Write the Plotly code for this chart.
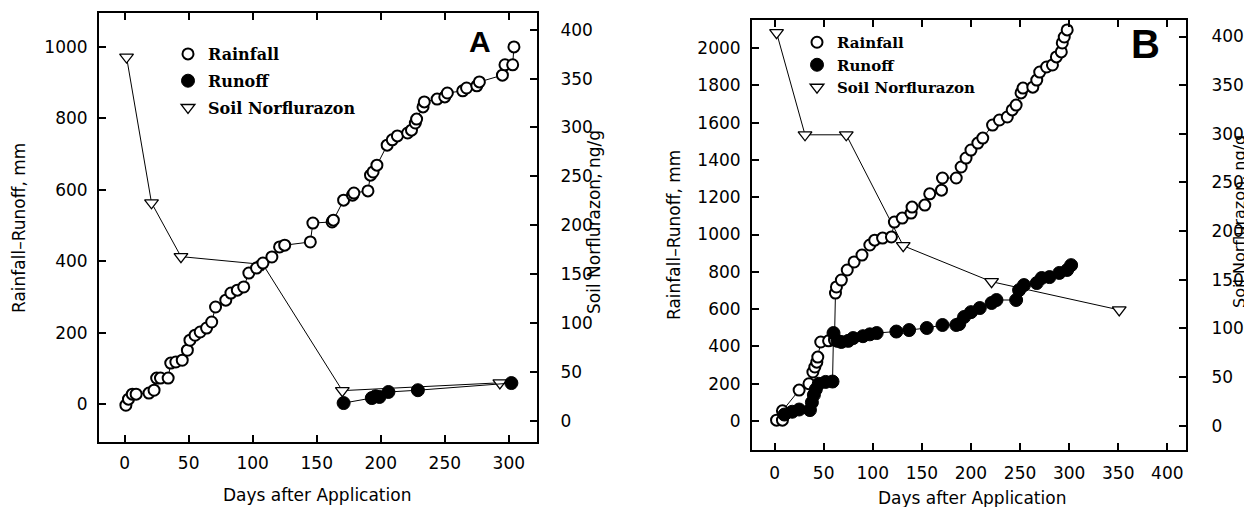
import plotly.graph_objects as go

# ---------------- Panel A data ----------------
a_rain_day = [1, 3, 6, 9, 19, 23, 25, 28, 34, 36, 40, 45, 49, 51, 55, 59, 64, 68, 71, 79,
              83, 88, 93, 97, 103, 108, 115, 121, 125, 145, 147, 162, 163, 171, 178, 179,
              190, 192, 194, 197, 205, 209, 213, 221, 224, 227, 228, 233, 234, 244, 250,
              252, 264, 267, 275, 277, 295, 297, 303, 304]
a_rain_mm = [-3, 14, 28, 28, 31, 39, 73, 73, 73, 115, 118, 123, 151, 179, 193, 202, 213, 230,
             272, 291, 311, 319, 328, 367, 381, 395, 412, 440, 445, 454, 507, 510, 515, 571,
             585, 591, 597, 641, 650, 669, 725, 740, 751, 759, 767, 787, 798, 832, 846, 854,
             860, 871, 877, 885, 891, 902, 921, 950, 950, 1000]
a_runoff_day = [171, 193, 196, 199, 206, 229, 302]
a_runoff_mm = [3, 17, 22, 20, 34, 39, 59]
a_soil_day = [1.5, 21, 44, 108, 170, 293]
a_soil_ngg = [372, 223, 168, 160, 31, 39]

# ---------------- Panel B data ----------------
b_rain_day = [2, 8, 8, 25, 35, 39, 41, 43, 44, 47, 55, 61, 62, 63, 68, 74, 81, 89, 97, 102,
              110, 119, 122, 130, 139, 140, 153, 158, 170, 171, 185, 190, 195, 200, 207, 212,
              222, 229, 237, 242, 246, 251, 253, 263, 267, 270, 277, 283, 287, 292, 293, 295,
              298]
b_rain_mm = [5, 5, 55, 166, 200, 263, 290, 316, 343, 424, 430, 434, 686, 719, 756, 810, 853,
             890, 944, 970, 981, 987, 1067, 1088, 1115, 1147, 1158, 1218, 1238, 1303, 1303,
             1362, 1410, 1453, 1490, 1517, 1587, 1614, 1630, 1668, 1694, 1759, 1785, 1790,
             1828, 1871, 1898, 1909, 1952, 1979, 2027, 2059, 2097]
b_runoff_day = [10, 18, 25, 36, 38, 40, 42, 45, 52, 59, 60, 64, 68, 75, 80, 90, 97, 104, 124,
                137, 155, 171, 185, 188, 193, 200, 209, 221, 226, 246, 249, 254, 267, 272,
                280, 290, 298, 302]
b_runoff_mm = [35, 50, 62, 59, 100, 140, 170, 200, 210, 212, 472, 430, 424, 430, 445, 455,
               465, 472, 480, 488, 499, 515, 515, 520, 558, 584, 606, 633, 649, 649, 702, 729,
               740, 767, 772, 794, 810, 836]
b_soil_day = [2, 31, 73, 131, 221, 351]
b_soil_ngg = [404, 299, 299, 185, 148, 119]

x_ticks_a = [0, 50, 100, 150, 200, 250, 300]
x_ticks_b = [0, 50, 100, 150, 200, 250, 300, 350, 400]

# page is drawn with an 8px body margin, so the figure fills the rest of the window
OFF = 8
W, H = 1252 - OFF, 507 - OFF
BLACK = "black"
TICKFONT = dict(family="DejaVu Sans", size=17, color=BLACK)
TITLEFONT = dict(family="DejaVu Sans", size=17, color=BLACK)
LEGFONT = dict(family="DejaVu Serif", size=16, color=BLACK, weight="bold")
LEGFONT2 = dict(family="DejaVu Serif", size=15, color=BLACK, weight="bold")

open_circle = dict(symbol="circle", size=11, color="white", line=dict(color=BLACK, width=2))
filled_circle = dict(symbol="circle", size=13, color=BLACK, line=dict(color=BLACK, width=1))
tri = dict(symbol="triangle-down", size=12, color="white", line=dict(color=BLACK, width=1.3))
line1 = dict(color=BLACK, width=1)

fig = go.Figure()

# Panel A (soil on base axis 'y' so it sits beneath circles)
fig.add_trace(go.Scatter(x=a_soil_day, y=a_soil_ngg, mode="lines+markers", marker=tri,
                         line=line1, xaxis="x", yaxis="y", showlegend=False))
fig.add_trace(go.Scatter(x=a_rain_day, y=a_rain_mm, mode="lines+markers", marker=open_circle,
                         line=line1, xaxis="x", yaxis="y2", showlegend=False))
fig.add_trace(go.Scatter(x=a_runoff_day, y=a_runoff_mm, mode="lines+markers", marker=filled_circle,
                         line=line1, xaxis="x", yaxis="y2", showlegend=False))
# Panel B
fig.add_trace(go.Scatter(x=b_soil_day, y=b_soil_ngg, mode="lines+markers", marker=tri,
                         line=line1, xaxis="x2", yaxis="y3", showlegend=False))
fig.add_trace(go.Scatter(x=b_rain_day, y=b_rain_mm, mode="lines+markers", marker=open_circle,
                         line=line1, xaxis="x2", yaxis="y4", showlegend=False))
fig.add_trace(go.Scatter(x=b_runoff_day, y=b_runoff_mm, mode="lines+markers", marker=filled_circle,
                         line=line1, xaxis="x2", yaxis="y4", showlegend=False))

# legend entries
names = ["Rainfall", "Runoff", "Soil Norflurazon"]
marks = [open_circle, filled_circle, tri]
for leg, xa, ya in [("legend", "x", "y2"), ("legend2", "x2", "y4")]:
    for i, (n, m) in enumerate(zip(names, marks)):
        fig.add_trace(go.Scatter(x=[None], y=[None], mode="markers", marker=m, name=n,
                                 xaxis=xa, yaxis=ya, legend=leg, legendgroup=leg + str(i),
                                 showlegend=True))

def px_x(p):
    return (p - OFF) / W

def px_y(p):
    return 1 - (p - OFF) / H

axis_common = dict(showline=True, linewidth=2, linecolor=BLACK, ticks="inside", ticklen=7,
                   tickwidth=1.5, tickcolor=BLACK, showgrid=False, zeroline=False,
                   tickfont=TICKFONT)

fig.update_layout(
    width=W, height=H, margin=dict(l=0, r=0, t=0, b=0),
    paper_bgcolor="white", plot_bgcolor="white",
    xaxis=dict(domain=[px_x(99), px_x(537)], anchor="y", range=[-20, 322],
               tickvals=x_ticks_a, mirror="ticks", ticklabelstandoff=5, **axis_common),
    yaxis=dict(domain=[px_y(442), px_y(13)], anchor="x", side="right", range=[-21.5, 417],
               dtick=50, tick0=0, ticklabelstandoff=18, **axis_common),
    yaxis2=dict(overlaying="y", anchor="x", side="left", range=[-106, 1095], dtick=200,
                tick0=0, ticklabelstandoff=6, **axis_common),
    xaxis2=dict(domain=[px_x(752), px_x(1186)], anchor="y3", range=[-23, 419],
                tickvals=x_ticks_b, mirror="ticks", ticklabelstandoff=7, **axis_common),
    yaxis3=dict(domain=[px_y(450), px_y(20)], anchor="x2", side="right", range=[-25, 417],
                dtick=50, tick0=0, ticklabelstandoff=20, **axis_common),
    yaxis4=dict(overlaying="y3", anchor="x2", side="left", range=[-155, 2150], dtick=200,
                tick0=0, ticklabelstandoff=6, **axis_common),
    legend=dict(x=px_x(168), y=px_y(37), xanchor="left", yanchor="top", font=LEGFONT,
                bgcolor="rgba(0,0,0,0)", traceorder="grouped", tracegroupgap=3,
                itemclick=False),
    legend2=dict(x=px_x(797), y=px_y(26), xanchor="left", yanchor="top", font=LEGFONT2,
                 bgcolor="rgba(0,0,0,0)", traceorder="grouped", tracegroupgap=0,
                 itemclick=False),
    showlegend=True,
)

ann = []
def add_text(text, x, y, angle=0, font=TITLEFONT):
    ann.append(dict(text=text, x=px_x(x), y=px_y(y), xref="paper", yref="paper",
                    showarrow=False, textangle=angle, font=font,
                    xanchor="center", yanchor="middle"))

add_text("Rainfall\u2013Runoff, mm", 19, 228, -90)
add_text("Soil Norflurazon, ng/g", 594, 222, -90)
add_text("Days after Application", 317, 495)
add_text("Rainfall\u2013Runoff, mm", 674, 235, -90)
add_text("Soil Norflurazon, ng/g", 1239, 222, -90, dict(family="DejaVu Sans", size=16, color=BLACK))
add_text("Days after Application", 972, 498)
add_text("A", 480, 42, 0, dict(family="Liberation Sans", size=30, color=BLACK, weight="bold"))
add_text("B", 1145, 44, 0, dict(family="Liberation Sans", size=40, color=BLACK, weight="bold"))
fig.update_layout(annotations=ann)

fig.write_html("out.html")
